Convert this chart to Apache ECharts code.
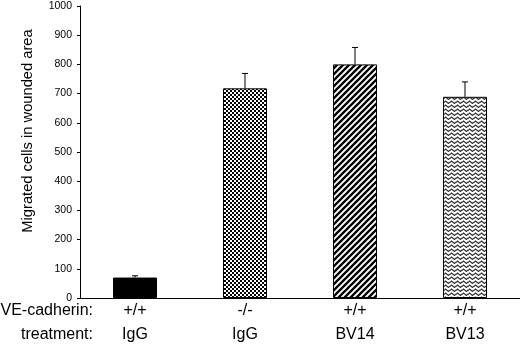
<!DOCTYPE html>
<html><head><meta charset="utf-8">
<script src="https://cdn.jsdelivr.net/npm/echarts@6/dist/echarts.min.js"></script>
<style>html,body{margin:0;padding:0;background:#fff}#c{width:520px;height:348px}</style>
</head><body><div id="c"></div>
<script>
const veCadherin = ['+/+', '-/-', '+/+', '+/+'];
const treatment = ['IgG', 'IgG', 'BV14', 'BV13'];
const values = [70, 718, 800, 689];
const errors = [6, 51, 58, 51];
const yTicks = [0, 100, 200, 300, 400, 500, 600, 700, 800, 900, 1000];

function makeCanvas(w, h, draw) {
  const c = document.createElement('canvas');
  c.width = w; c.height = h;
  const ctx = c.getContext('2d');
  ctx.fillStyle = '#fff'; ctx.fillRect(0, 0, w, h);
  draw(ctx, w, h);
  return c;
}
const checker = makeCanvas(4, 4, (ctx) => {
  ctx.fillStyle = '#000';
  ctx.fillRect(0, 0, 2, 2); ctx.fillRect(2, 2, 2, 2);
});
const stripes = makeCanvas(6, 6, (ctx, s) => {
  ctx.strokeStyle = '#000'; ctx.lineWidth = 2.3;
  ctx.beginPath();
  ctx.moveTo(-1, s + 1); ctx.lineTo(s + 1, -1);
  ctx.moveTo(-2, 2); ctx.lineTo(2, -2);
  ctx.moveTo(s - 2, s + 2); ctx.lineTo(s + 2, s - 2);
  ctx.stroke();
});
const waves = makeCanvas(6, 4, (ctx) => {
  ctx.strokeStyle = '#333'; ctx.lineWidth = 1.2;
  ctx.beginPath();
  ctx.moveTo(0, 2.5); ctx.lineTo(1.5, 1); ctx.lineTo(4.5, 3.5); ctx.lineTo(6, 2);
  ctx.stroke();
});
const fills = ['#000', {image: checker, repeat: 'repeat'}, {image: stripes, repeat: 'repeat'}, {image: waves, repeat: 'repeat'}];

const chart = echarts.init(document.getElementById('c'), null, {renderer: 'canvas'});
const font = 'Liberation Sans, Arial, Helvetica, sans-serif';
chart.setOption({
  animation: false,
  grid: {left: 80, right: 0, top: 6, bottom: 50, containLabel: false},
  xAxis: {
    type: 'category',
    data: veCadherin.map((v, i) => v + '\n' + treatment[i]),
    axisLine: {lineStyle: {color: '#000', width: 1}},
    axisTick: {show: false},
    axisLabel: {color: '#000', fontFamily: font, fontSize: 16, lineHeight: 24, margin: 1}
  },
  yAxis: {
    type: 'value', min: 0, max: 1000, interval: 100,
    splitLine: {show: false},
    axisLine: {show: true, lineStyle: {color: '#000', width: 1}},
    axisTick: {show: true, length: 3, lineStyle: {color: '#000'}},
    axisLabel: {color: '#000', fontFamily: font, fontSize: 10.5, margin: 8,
      formatter: v => yTicks.includes(v) ? String(v) : ''}
  },
  graphic: [
    {type: 'text', x: 28, y: 131, rotation: Math.PI / 2,
      style: {text: 'Migrated cells in wounded area', fill: '#000', font: '14.7px ' + font, textAlign: 'center', textVerticalAlign: 'middle'}},
    {type: 'text', x: 93, y: 311, style: {text: 'VE-cadherin:', fill: '#000', font: '16px ' + font, textAlign: 'right', textVerticalAlign: 'middle'}},
    {type: 'text', x: 93, y: 335, style: {text: 'treatment:', fill: '#000', font: '16px ' + font, textAlign: 'right', textVerticalAlign: 'middle'}}
  ],
  series: [
    {
      type: 'bar', barWidth: '40%',
      data: values.map((v, i) => ({value: v, itemStyle: {color: fills[i], borderColor: '#000', borderWidth: 1}}))
    },
    {
      type: 'custom', z: 1,
      data: values.map((v, i) => [i, v, errors[i]]),
      renderItem: (params, api) => {
        const i = api.value(0), v = api.value(1), e = api.value(2);
        const base = api.coord([i, v]);
        const top = api.coord([i, v + e]);
        const st = {stroke: '#000', lineWidth: 1};
        return {type: 'group', children: [
          {type: 'line', shape: {x1: base[0], y1: base[1], x2: top[0], y2: top[1]}, style: st},
          {type: 'line', shape: {x1: top[0] - 3, y1: top[1], x2: top[0] + 3, y2: top[1]}, style: st}
        ]};
      }
    }
  ]
});
</script></body></html>
